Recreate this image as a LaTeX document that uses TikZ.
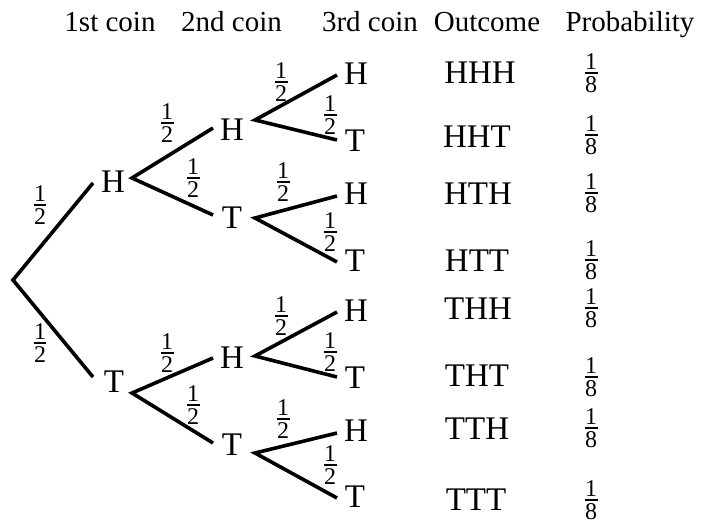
\documentclass[tikz,border=0pt]{standalone}
\usepackage{fontspec}
\setmainfont{Liberation Serif}
% stacked fraction set in the text font: numerator, bar, denominator
\newcommand\frc[2]{\vbox{\fontsize{24}{24}\selectfont
  \hbox to 13pt{\hss#1\hss}\kern3pt\hrule height 1.6pt\kern3pt\hbox to 13pt{\hss#2\hss}}}
\tikzset{
  branch/.style={line width=3.6pt},
  coin/.style={font=\fontsize{33}{38}\selectfont, inner sep=0pt},
  head/.style={font=\fontsize{29}{34}\selectfont, inner sep=0pt, anchor=base},
  prob/.style={inner sep=0pt},
}
\begin{document}
\begin{tikzpicture}[x=1pt, y=-1pt]
\useasboundingbox (0,0) rectangle (703,524);

% column headings
\node[head] (c1) at (110,32) {1st coin};
\node[head] (c2) at (231.5,32) {2nd coin};
\node[head] (c3) at (370,32) {3rd coin};
\node[head] (c4) at (487,32) {Outcome};
\node[head] (c5) at (630,32) {Probability};

% fork points and branch ends
\coordinate (r) at (13,280);
\coordinate (eH) at (93,183);   \coordinate (eT) at (93,377);
\coordinate (vH) at (132,178);  \coordinate (vT) at (132,393);
\coordinate (eHH) at (213,128); \coordinate (eHT) at (213,215);
\coordinate (eTH) at (213,358); \coordinate (eTT) at (213,443);
\coordinate (vHH) at (255,120); \coordinate (vHT) at (255,218);
\coordinate (vTH) at (255,356); \coordinate (vTT) at (255,453);
\coordinate (l1) at (337,75);  \coordinate (l2) at (337,140);
\coordinate (l3) at (337,196); \coordinate (l4) at (337,262);
\coordinate (l5) at (337,312); \coordinate (l6) at (337,377);
\coordinate (l7) at (337,433); \coordinate (l8) at (337,498);

% first coin
\node[coin] (nH) at (113,182) {H};
\node[coin] (nT) at (114,382) {T};
% second coin
\node[coin] (nHH) at (232,130) {H};
\node[coin] (nHT) at (232,218) {T};
\node[coin] (nTH) at (232,358) {H};
\node[coin] (nTT) at (232,445) {T};
% third coin
\node[coin] (t1) at (356,74)  {H};
\node[coin] (t2) at (355,141) {T};
\node[coin] (t3) at (356,194) {H};
\node[coin] (t4) at (355,261) {T};
\node[coin] (t5) at (356,311) {H};
\node[coin] (t6) at (355,378) {T};
\node[coin] (t7) at (356,431) {H};
\node[coin] (t8) at (355,497) {T};

% branches
\draw[branch] (eH) -- (r) -- (eT);
\draw[branch] (eHH) -- (vH) -- (eHT);
\draw[branch] (eTH) -- (vT) -- (eTT);
\draw[branch] (l1) -- (vHH) -- (l2);
\draw[branch] (l3) -- (vHT) -- (l4);
\draw[branch] (l5) -- (vTH) -- (l6);
\draw[branch] (l7) -- (vTT) -- (l8);

% branch probabilities
\node[prob] (p1) at (40,205) {\frc12};
\node[prob] (p2) at (40,343) {\frc12};
\node[prob] (p3) at (167,123) {\frc12};
\node[prob] (p4) at (193,178) {\frc12};
\node[prob] (p5) at (167,353) {\frc12};
\node[prob] (p6) at (193,405) {\frc12};
\node[prob] (p7) at (281,82) {\frc12};
\node[prob] (p8) at (330,115) {\frc12};
\node[prob] (p9) at (283,182) {\frc12};
\node[prob] (p10) at (330,232) {\frc12};
\node[prob] (p11) at (281,316) {\frc12};
\node[prob] (p12) at (330,352) {\frc12};
\node[prob] (p13) at (283,419) {\frc12};
\node[prob] (p14) at (330,465) {\frc12};

% outcomes
\node[coin] (o1) at (480,73)  {HHH};
\node[coin] (o2) at (477,137) {HHT};
\node[coin] (o3) at (478,194) {HTH};
\node[coin] (o4) at (477,261) {HTT};
\node[coin] (o5) at (478,309) {THH};
\node[coin] (o6) at (477,376) {THT};
\node[coin] (o7) at (477,429) {TTH};
\node[coin] (o8) at (476,500) {TTT};

% outcome probabilities
\node[prob] (q1) at (591,73)  {\frc18};
\node[prob] (q2) at (591,135) {\frc18};
\node[prob] (q3) at (591,193) {\frc18};
\node[prob] (q4) at (591,260) {\frc18};
\node[prob] (q5) at (591,308) {\frc18};
\node[prob] (q6) at (591,377) {\frc18};
\node[prob] (q7) at (591,428) {\frc18};
\node[prob] (q8) at (591,500) {\frc18};
\end{tikzpicture}
\end{document}
